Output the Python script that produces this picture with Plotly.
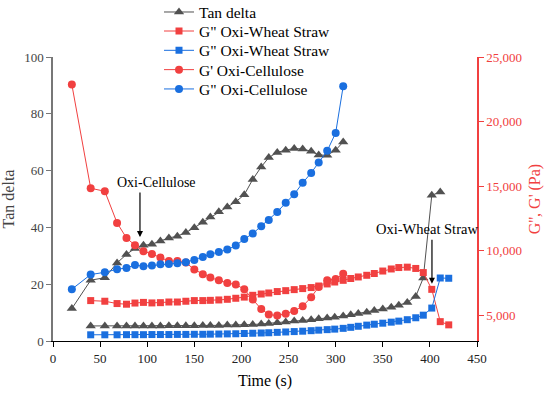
import plotly.graph_objects as go

# ---------------- data ----------------
t_oc = [20, 40, 55, 68, 78, 87, 96, 105, 114, 123, 132, 141, 150, 159, 167, 176, 185, 194,
        203, 212, 221, 229, 238, 247, 256, 265, 274, 282, 291, 300, 308]
tan_oc = [11.4, 21.4, 22.3, 27.5, 30.5, 32.6, 33.7, 34.1, 35.2, 36.3, 36.9, 38.2, 39.9, 41.8,
          43.7, 45.5, 47.2, 49.0, 51.5, 56.9, 61.3, 64.6, 66.4, 67.2, 67.8, 67.6, 66.8, 65.5,
          65.4, 67.2, 70.1]
gp_oc = [22870, 14830, 14600, 12150, 10980, 10420, 9950, 9740, 9460, 9200, 9200, 9080, 8530,
         8170, 7910, 7700, 7500, 7370, 7010, 6210, 5480, 5050, 4970, 5120, 5330, 5690, 6390,
         7190, 7700, 7800, 8200]
gpp_oc = [7010, 8150, 8320, 8560, 8660, 8890, 8790, 8840, 8940, 8970, 9020, 9100, 9280, 9510,
          9720, 9900, 10080, 10390, 10900, 11320, 11890, 12380, 13000, 13700, 14370, 15250,
          16020, 16830, 17730, 19120, 22740]

t_ows = [40, 55, 68, 78, 87, 96, 105, 114, 123, 132, 141, 150, 159, 167, 176, 185, 194, 203,
         212, 221, 229, 238, 247, 256, 265, 274, 282, 291, 299, 308, 316, 324, 333, 341, 350,
         359, 367, 376, 385, 393, 402, 411, 420]
tan_ows = [5.3, 5.3, 5.3, 5.3, 5.3, 5.3, 5.3, 5.3, 5.4, 5.4, 5.4, 5.4, 5.5, 5.5, 5.5, 5.6, 5.6,
           5.7, 5.8, 6.0, 6.2, 6.4, 6.7, 7.0, 7.2, 7.5, 7.8, 8.1, 8.4, 8.8, 9.2, 9.7, 10.1,
           10.7, 11.3, 11.9, 12.6, 13.6, 15.7, 22.2, 51.3, 52.5]
gp_ows = [6130, 6080, 5900, 5850, 5940, 5990, 5950, 5970, 6020, 6020, 6080, 6130, 6130, 6150,
          6180, 6230, 6310, 6400, 6540, 6640, 6720, 6830, 6900, 6980, 7060, 7140, 7260, 7420,
          7570, 7700, 7840, 7960, 8090, 8230, 8420, 8580, 8690, 8720, 8620, 8300, 7000, 4500,
          4250]
gpp_ows = [3480, 3480, 3480, 3490, 3490, 3490, 3500, 3500, 3500, 3510, 3510, 3520, 3520, 3530,
           3540, 3550, 3560, 3580, 3600, 3620, 3640, 3670, 3700, 3730, 3760, 3800, 3840, 3880,
           3920, 3980, 4060, 4140, 4230, 4300, 4380, 4460, 4540, 4650, 4800, 5000, 5550, 7880,
           7860]

x_ticks = [0, 50, 100, 150, 200, 250, 300, 350, 400, 450]
y_ticks = [0, 20, 40, 60, 80, 100]
y2_ticks = [5000, 10000, 15000, 20000, 25000]

GRAY = "#515151"
RED = "#F14040"
BLUE = "#1A6FDF"
FONT = "Liberation Serif"

fig = go.Figure()

fig.add_trace(go.Scatter(x=t_oc, y=tan_oc, name="Tan delta", mode="lines+markers",
                         legend="legend",
                         line=dict(color=GRAY, width=1),
                         marker=dict(symbol="triangle-up", size=9, color=GRAY)))
fig.add_trace(go.Scatter(x=t_ows[:len(tan_ows)], y=tan_ows, name="Tan delta", showlegend=False,
                         mode="lines+markers", line=dict(color=GRAY, width=1),
                         marker=dict(symbol="triangle-up", size=9, color=GRAY)))
fig.add_trace(go.Scatter(x=t_ows, y=gp_ows, name='G" Oxi-Wheat Straw', yaxis="y2",
                         legend="legend2",
                         mode="lines+markers", line=dict(color=RED, width=1),
                         marker=dict(symbol="square", size=7, color=RED)))
fig.add_trace(go.Scatter(x=t_ows, y=gpp_ows, name='G" Oxi-Wheat Straw', yaxis="y2",
                         legend="legend3",
                         mode="lines+markers", line=dict(color=BLUE, width=1),
                         marker=dict(symbol="square", size=7, color=BLUE)))
fig.add_trace(go.Scatter(x=t_oc, y=gp_oc, name="G' Oxi-Cellulose", yaxis="y2",
                         legend="legend4",
                         mode="lines+markers", line=dict(color=RED, width=1),
                         marker=dict(symbol="circle", size=8, color=RED)))
fig.add_trace(go.Scatter(x=t_oc, y=gpp_oc, name='G" Oxi-Cellulose', yaxis="y2",
                         legend="legend5",
                         mode="lines+markers", line=dict(color=BLUE, width=1),
                         marker=dict(symbol="circle", size=8, color=BLUE)))

annos = [
    dict(x=110, y=55.8, xref="x", yref="y", text="Oxi-Cellulose", showarrow=False,
         font=dict(family=FONT, size=14, color="black")),
    dict(x=92.3, y=36.6, xref="x", yref="y", ax=92.3, ay=52.8, axref="x", ayref="y",
         text="", showarrow=True, arrowhead=2, arrowsize=1, arrowwidth=1.2, arrowcolor="black"),
    dict(x=341, y=39.6, xref="x", yref="y", text="Oxi-Wheat Straw", showarrow=False,
         xanchor="left", font=dict(family=FONT, size=14.5, color="black")),
    dict(x=402.2, y=20.2, xref="x", yref="y", ax=402.2, ay=36.2, axref="x", ayref="y",
         text="", showarrow=True, arrowhead=2, arrowsize=1, arrowwidth=1.2, arrowcolor="black"),
]

def leg(yv):
    return dict(x=0.25, y=yv, xanchor="left", yanchor="middle", bgcolor="rgba(0,0,0,0)",
                font=dict(family=FONT, size=15.5, color="black"))

fig.update_layout(
    width=550, height=393,
    margin=dict(l=53, r=73, t=57, b=52, autoexpand=False),
    paper_bgcolor="white", plot_bgcolor="white",
    font=dict(family=FONT, size=13, color="#333333"),
    showlegend=True,
    legend=leg(1.157), legend2=leg(1.090), legend3=leg(1.022),
    legend4=leg(0.954), legend5=leg(0.886),
    xaxis=dict(range=[0, 450], tickvals=x_ticks, showgrid=False, zeroline=False,
               showline=True, linecolor="black", linewidth=1.2, ticks="outside", ticklen=5,
               tickcolor="black", tickfont=dict(family=FONT, size=13, color="#222222"),
               title=dict(text="Time (s)", font=dict(family=FONT, size=16, color="black"),
                          standoff=10)),
    yaxis=dict(range=[0, 100], tickvals=y_ticks, showgrid=False, zeroline=False,
               showline=True, linecolor="#777777", linewidth=1.5, ticks="outside", ticklen=5,
               tickcolor="#777777", tickfont=dict(family=FONT, size=13, color="#444444"),
               title=dict(text="Tan delta", font=dict(family=FONT, size=16, color="#444444"),
                          standoff=8)),
    yaxis2=dict(range=[3000, 25000], tickvals=y2_ticks, tickformat=",d", overlaying="y",
                side="right", showgrid=False, zeroline=False, showline=True, linecolor=RED,
                linewidth=1.5, ticks="outside", ticklen=5, tickcolor=RED,
                tickfont=dict(family=FONT, size=13, color=RED),
                title=dict(text="G'', G' (Pa)", font=dict(family=FONT, size=16, color=RED),
                           standoff=8)),
    annotations=annos,
)

fig.write_html("out.html", config={"displayModeBar": False},
               post_script="document.body.style.margin='0';document.body.style.overflow='hidden';")
